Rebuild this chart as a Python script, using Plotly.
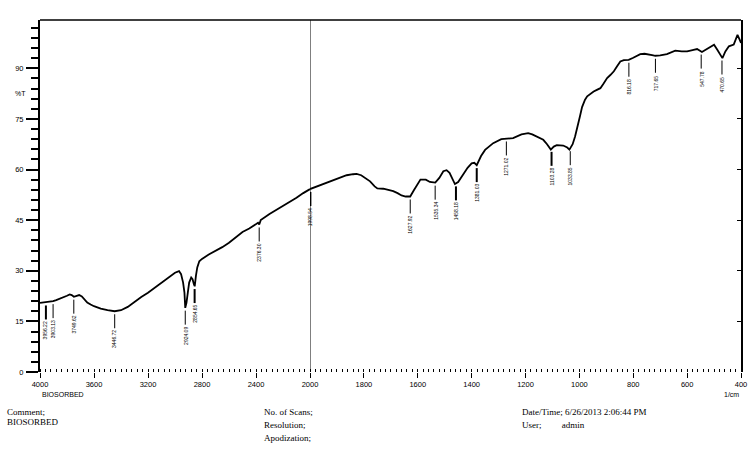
import numpy as np
import plotly.graph_objects as go

# ---- data: wavenumber (1/cm) and transmittance (%T) ----
wavenumber = [4000, 3980, 3956, 3930, 3903, 3880, 3850, 3820, 3800, 3780, 3765, 3749, 3730, 3710,
              3690, 3670, 3650, 3625, 3600, 3550, 3500, 3447, 3400, 3350, 3300, 3250, 3200, 3150,
              3100, 3050, 3000, 2970, 2955, 2940, 2930, 2924, 2915, 2905, 2895, 2880, 2870, 2860,
              2854, 2845, 2835, 2820, 2800, 2750, 2700, 2650, 2600, 2550, 2500, 2450, 2400, 2385,
              2376, 2365, 2300, 2222, 2150, 2100, 2050, 2000, 1960, 1938, 1900, 1864, 1840, 1827,
              1810, 1790, 1777, 1760, 1750, 1728, 1710, 1691, 1675, 1660, 1645, 1628, 1615, 1600,
              1590, 1570, 1555, 1535, 1520, 1505, 1493, 1482, 1474, 1462, 1450, 1440, 1431, 1415,
              1400, 1390, 1381, 1365, 1350, 1320, 1290, 1271, 1246, 1215, 1190, 1175, 1158, 1134,
              1120, 1106, 1095, 1084, 1060, 1045, 1037, 1025, 1016, 1005, 998, 990, 979, 971, 960,
              947, 935, 922, 910, 897, 885, 872, 860, 848, 835, 817, 800, 785, 774, 758, 743, 730,
              718, 700, 675, 660, 644, 620, 600, 580, 563, 545, 525, 500, 488, 478, 469, 458, 445,
              427, 420, 413, 405, 400]
transmittance = [20.5, 20.6, 20.6, 20.9, 21.0, 21.3, 21.7, 22.2, 22.6, 23.0, 22.8, 22.3, 22.6, 22.8,
                 22.4, 21.5, 20.6, 20.0, 19.5, 18.8, 18.3, 18.0, 18.3, 19.3, 20.8, 22.2, 23.5, 25.0,
                 26.4, 28.0, 29.4, 29.9, 29.0, 26.5, 23.5, 19.0, 20.5, 23.5, 26.5, 28.0, 27.5, 26.0,
                 25.4, 28.5, 31.0, 32.8, 33.5, 34.8, 35.8, 37.0, 38.3, 40.0, 41.5, 42.5, 43.7, 44.2,
                 43.7, 45.0, 46.8, 48.6, 50.3, 51.6, 53.0, 54.2, 55.4, 56.0, 57.0, 58.3, 58.6, 58.7,
                 58.3, 57.3, 56.5, 55.0, 54.4, 54.3, 53.9, 53.6, 53.0, 52.3, 52.0, 52.0, 53.8, 56.0,
                 57.0, 57.0, 56.3, 56.1, 57.5, 59.5, 59.8, 59.0, 57.5, 55.7, 56.3, 57.6, 58.5, 60.5,
                 61.8, 62.0, 61.3, 64.0, 65.8, 67.8, 69.0, 69.2, 69.3, 70.4, 70.8, 70.4, 69.8, 68.8,
                 67.5, 65.9, 66.8, 67.2, 67.1, 66.5, 65.9, 67.5, 69.8, 73.0, 75.7, 78.5, 80.7, 81.7, 82.4,
                 83.1, 83.6, 84.1, 85.5, 87.1, 88.0, 89.1, 90.6, 92.0, 92.4, 92.5, 93.1, 93.8, 94.2, 94.3, 94.2, 93.9,
                 93.7, 93.8, 94.2, 94.8, 95.2, 95.0, 95.0, 95.4, 95.7, 94.8, 95.8, 97.0, 95.5, 94.0, 93.0, 95.0, 96.5,
                 97.0, 98.5, 99.9, 98.5, 97.5]

peak_positions = [3956.22, 3903.13, 3749.62, 3446.72, 2924.09, 2854.65, 2376.30, 1998.54,
                  1627.92, 1535.34, 1458.18, 1381.03, 1271.02, 1103.28, 1033.85, 816.18,
                  717.65, 547.78, 470.65]
peak_labels = ["3956.22", "3903.13", "3749.62", "3446.72", "2924.09", "2854.65", "2376.30", "1998.54",
               "1627.92", "1535.34", "1458.18", "1381.03", "1271.02", "1103.28", "1033.85", "816.18",
               "717.65", "547.78", "470.65"]
peak_bold = [True, False, False, False, False, True, False, True,
             False, False, True, True, False, True, False, False, False, False, False]

x_ticks_high = [4000, 3600, 3200, 2800, 2400]
x_ticks_low = [2000, 1800, 1600, 1400, 1200, 1000, 800, 600, 400]
y_ticks = [0, 15, 30, 45, 60, 75, 90]

# ---- layout geometry (pixels) ----
W, H = 750, 462
L, R, T, B = 40, 741, 20, 372
d = 270 / (R - L)      # fraction of width used by the 4000-2000 section

w = np.array(wavenumber, dtype=float)
t = np.array(transmittance, dtype=float)
hi = w >= 2000
lo = w <= 2000

line_style = dict(color="black", width=1.8)
fig = go.Figure()
fig.add_trace(go.Scatter(x=w[hi], y=t[hi], mode="lines", line=line_style,
                         xaxis="x", yaxis="y", showlegend=False, hoverinfo="skip"))
fig.add_trace(go.Scatter(x=w[lo], y=t[lo], mode="lines", line=line_style,
                         xaxis="x2", yaxis="y", showlegend=False, hoverinfo="skip"))
fig.add_trace(go.Scatter(x=[w[lo][0]], y=[t[lo][0]], xaxis="x2", yaxis="y2", mode="lines",
                         line=dict(width=0), showlegend=False, hoverinfo="skip"))

shapes = []
annotations = []
w_rev = w[::-1]
t_rev = t[::-1]
for pos, lab, bold in zip(peak_positions, peak_labels, peak_bold):
    yv = float(np.interp(pos, w_rev, t_rev))
    xr = "x" if pos >= 2000 else "x2"
    shapes.append(dict(type="line", xref=xr, yref="y", ysizemode="pixel", yanchor=yv,
                       x0=pos, x1=pos, y0=-3, y1=-17,
                       line=dict(color="black", width=2 if bold else 1)))
    annotations.append(dict(x=pos, y=yv, xref=xr, yref="y", text=lab, showarrow=False,
                            textangle=-90, yanchor="top", xanchor="center", yshift=-17,
                            font=dict(family="Liberation Sans", size=5, color="black")))

# vertical line at 2000
shapes.append(dict(type="line", xref="x2", yref="paper", x0=2000, x1=2000, y0=0, y1=1,
                   line=dict(color="black", width=1)))
# top border
shapes.append(dict(type="line", xref="paper", yref="paper", x0=0, x1=1, y0=1, y1=1,
                   line=dict(color="black", width=1.5)))


def px(xp):
    return (xp - L) / (R - L)


def py(yp):
    return (B - yp) / (B - T)


serif = dict(family="Liberation Serif", size=9, color="black")
sans_small = dict(family="Liberation Sans", size=7, color="black")
texts = [
    ("%T", 20, 93, sans_small, "center"),
    ("BIOSORBED", 40, 394, sans_small, "left"),
    ("1/cm", 741, 394, sans_small, "right"),
    ("Comment;", 5, 412, serif, "left"),
    ("BIOSORBED", 5, 422, serif, "left"),
    ("No. of Scans;", 262, 412, serif, "left"),
    ("Resolution;", 262, 425, serif, "left"),
    ("Apodization;", 262, 438, serif, "left"),
    ("Date/Time; 6/26/2013 2:06:44 PM", 520, 412, serif, "left"),
    ("User;&nbsp;&nbsp;&nbsp;&nbsp;&nbsp;&nbsp;&nbsp;&nbsp;&nbsp;admin", 520, 425, serif, "left"),
]
for txt, xx, yy, f, xa in texts:
    annotations.append(dict(x=px(xx), y=py(yy), xref="paper", yref="paper", text=txt,
                            showarrow=False, xanchor=xa, yanchor="middle", font=f))

tickfont = dict(family="Liberation Sans", size=7.5, color="black")
common_x = dict(showgrid=False, zeroline=False, showline=False, ticks="outside", ticklen=5,
                tickwidth=1, tickcolor="black", tickfont=tickfont, anchor="y",
                ticklabelstandoff=0, automargin=False)

fig.update_layout(
    width=W, height=H,
    margin=dict(l=L, r=W - R, t=T, b=H - B, pad=0, autoexpand=False),
    paper_bgcolor="white", plot_bgcolor="white",
    xaxis=dict(domain=[0, d], range=[4000, 2000], tickmode="array", tickvals=x_ticks_high,
               minor=dict(tickmode="linear", tick0=4000, dtick=40, ticks="inside", ticklen=3,
                          tickwidth=1, tickcolor="black"),
               **common_x),
    xaxis2=dict(domain=[d, 1], range=[2000, 400], tickmode="array", tickvals=x_ticks_low,
                minor=dict(tickmode="linear", tick0=400, dtick=20, ticks="inside", ticklen=3,
                           tickwidth=1, tickcolor="black"),
                **common_x),
    yaxis=dict(range=[0, 104.3], tickmode="array", tickvals=y_ticks, ticks="outside",
               ticklen=12, tickwidth=2, tickcolor="black", showline=True, linecolor="black",
               linewidth=2, showgrid=False, zeroline=False, tickfont=tickfont, automargin=False,
               minor=dict(tickmode="linear", tick0=0, dtick=3, ticks="outside", ticklen=7,
                          tickwidth=2, tickcolor="black"), ticklabelstandoff=1),
    yaxis2=dict(range=[0, 104.3], overlaying="y", side="right", tickmode="array",
                tickvals=y_ticks, ticks="inside", ticklen=4, tickwidth=1, tickcolor="black",
                showticklabels=False, showline=True, linecolor="black", linewidth=1.5,
                showgrid=False, zeroline=False, anchor="x2", automargin=False),
    shapes=shapes,
    annotations=annotations,
)

fig.write_html("out.html")
